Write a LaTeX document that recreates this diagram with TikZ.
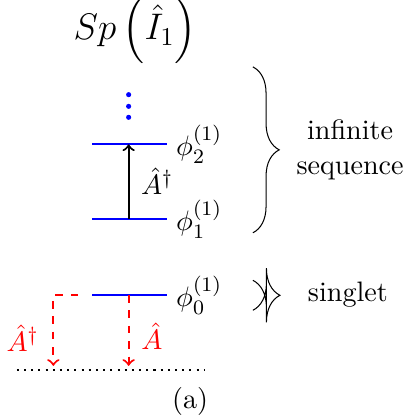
\documentclass[tikz,border=0pt]{standalone}
\usepackage{amsmath}
\usepackage{amssymb}
\usepackage{xcolor}
\usepackage{tikz}
\usetikzlibrary{decorations.pathreplacing}

\begin{document}
\begin{tikzpicture}[font=\fontsize{10.95}{13.6}\selectfont,
  level/.style={thick,blue},
  ladder/.style={thick,red,dashed,->},
  curly/.style={decorate,decoration={brace,amplitude=0.36cm}}]
\useasboundingbox (0,0) rectangle (5.595,5.705);
\node[font=\Large,inner sep=1pt] (title) at (1.85,5.29) {$Sp\left(\hat{I}_1\right)$};
% levels
\draw[level] (1.26,1.67) -- (2.28,1.67) node[right,black] (phi0) {$\phi_0^{(1)}$};
\draw[level] (1.26,2.71) -- (2.28,2.71) node[right,black] (phi1) {$\phi_1^{(1)}$};
\draw[level] (1.26,3.73) -- (2.28,3.73) node[right,black] (phi2) {$\phi_2^{(1)}$};
\fill[blue] (1.76,4.41) circle (0.035) (1.76,4.25) circle (0.035) (1.76,4.10) circle (0.035);
\coordinate (m0) at (1.76,1.67);
\coordinate (m1) at (1.76,2.71);
\coordinate (m2) at (1.76,3.73);
\draw[thick,->] (m1) -- (m2);
\node[inner sep=1pt] (up) at (2.15,3.23) {$\hat{A}^\dagger$};
% ground
\coordinate (g0) at (1.76,0.70);
\coordinate (g1) at (0.73,0.70);
\coordinate (c0) at (0.73,1.67);
\coordinate (s0) at (1.07,1.67);
\draw[ladder] (s0) -- (c0) -- (g1);
\draw[ladder] (m0) -- (g0);
\node[red,inner sep=1pt] (cre) at (0.31,1.08) {$\hat{A}^\dagger$};
\node[red,inner sep=1pt] (ann) at (2.08,1.10) {$\hat{A}$};
\draw[thick,dotted] (0.23,0.64) -- (2.80,0.64);
\node (cap) at (2.60,0.21) {(a)};
% braces
\draw[curly] (3.46,4.79) -- (3.46,2.52);
\draw (3.46,1.87) .. controls (3.571,1.8145) and (3.645,1.685) .. (3.645,1.50)
  -- (3.645,2.035) .. controls (3.645,1.85) and (3.719,1.7205) .. (3.83,1.665)
  .. controls (3.719,1.6095) and (3.645,1.48) .. (3.645,1.295)
  -- (3.645,1.83) .. controls (3.645,1.645) and (3.571,1.5155) .. (3.46,1.46);
\node[align=center] (inf) at (4.79,3.65) {infinite\\sequence};
\node (sing) at (4.76,1.67) {singlet};
\end{tikzpicture}
\end{document}
